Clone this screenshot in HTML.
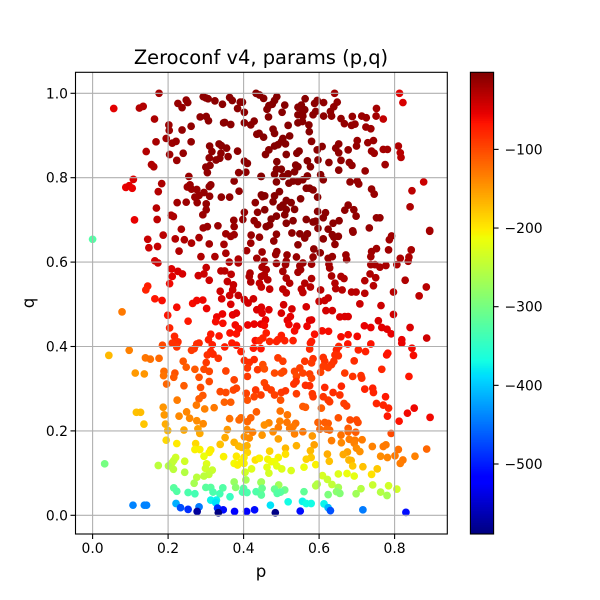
<!DOCTYPE html>
<html>
<head>
<meta charset="utf-8">
<title>Zeroconf v4, params (p,q)</title>
<style>
html,body{margin:0;padding:0;background:#fff;width:600px;height:600px;overflow:hidden}
svg{display:block}
text{font-family:"DejaVu Sans","Liberation Sans",sans-serif;fill:#000}
</style>
</head>
<body>
<svg id="chart" width="600" height="600" viewBox="0 0 600 600" xmlns="http://www.w3.org/2000/svg">
<rect x="0" y="0" width="600" height="600" fill="#fff"/>
<text x="261" y="64" font-size="19.44" text-anchor="middle">Zeroconf v4, params (p,q)</text>
<text x="261" y="577" font-size="16.67" text-anchor="middle">p</text>
<text x="0" y="0" font-size="16.67" text-anchor="middle" transform="translate(34,303) rotate(-90)">q</text>
<g id="marks"></g>
<g id="grid"></g>
<g id="axes"></g>
<rect x="75.5" y="72.3" width="371.8" height="461.7" fill="none" stroke="#000" stroke-width="1.1"/>
<g id="colorbar"></g>
</svg>
<script>
const xTicks=[0,0.2,0.4,0.6,0.8];
const yTicks=[0,0.2,0.4,0.6,0.8,1.0];
const colorTicks=[-100,-200,-300,-400,-500];
const zMin=-589;
const zMax=-2;

const pUpperLeft=[.176,.056,.124,.134,.164,.226,.248,.252,.237,.293,
.300,.306,.324,.344,.363,.370,.397,.391,.384,.402,
.433,.285,.301,.307,.202,.203,.237,.261,.347,.350,
.366,.402,.428,.419,.435,.441,.168,.195,.211,.221,
.261,.310,.335,.341,.355,.316,.384,.142,.204,.240,
.223,.309,.340,.337,.327,.359,.402,.410,.156,.162,
.311,.300,.304,.387,.406,.255,.446,.108,.088,.097,
.105,.183,.174,.251,.258,.262,.276,.313,.309,.295,
.282,.271,.310,.341,.363,.388,.375,.277,.301,.224,
.248,.169,.301,.292,.431,.402,.437,.208,.214,.111,
.171,.374,.398,.428,.437,.235,.293,.304,.332,.375,
.450];
const qUpperLeft=[1.0,.964,.965,.969,.939,.976,.984,.978,.966,.992,
.989,.987,.982,.974,.990,.983,.979,.979,.964,.955,
1.0,.944,.945,.935,.925,.912,.913,.922,.930,.931,
.926,.930,.934,.925,.903,.905,.885,.893,.882,.886,
.885,.875,.880,.876,.870,.862,.863,.862,.855,.858,
.841,.847,.858,.846,.842,.850,.839,.834,.831,.826,
.829,.825,.812,.812,.813,.803,.803,.796,.777,.781,
.775,.786,.767,.778,.783,.773,.772,.783,.779,.765,
.758,.754,.756,.754,.754,.768,.792,.741,.738,.741,
.742,.728,.724,.712,.741,.718,.718,.711,.708,.700,
.701,.699,.701,.698,.689,.678,.681,.684,.686,.684,
.755];
const zUpperLeft=[-20,-52,-28,-27,-24,-14,-12,-12,-13,-9,
-9,-9,-8,-8,-7,-7,-7,-7,-8,-8,
-6,-10,-9,-9,-16,-16,-12,-11,-8,-8,
-8,-8,-7,-7,-7,-7,-22,-18,-16,-15,
-12,-9,-8,-8,-8,-9,-8,-28,-18,-13,
-16,-10,-9,-9,-9,-9,-8,-8,-26,-26,
-10,-10,-11,-9,-9,-15,-8,-48,-55,-52,
-55,-24,-28,-17,-16,-16,-15,-12,-12,-13,
-14,-15,-13,-11,-11,-10,-10,-15,-13,-19,
-17,-30,-14,-15,-10,-12,-10,-25,-25,-55,
-33,-13,-12,-11,-12,-24,-17,-16,-15,-14,
-9];

const pUpperRight=[.442,.453,.488,.482,.476,.467,.462,.509,.502,.466,
.563,.553,.544,.562,.556,.544,.557,.588,.595,.591,
.584,.612,.648,.639,.630,.612,.633,.641,.813,.822,
.752,.751,.770,.688,.713,.725,.658,.667,.686,.695,
.724,.737,.518,.573,.544,.556,.574,.478,.482,.453,
.522,.504,.500,.491,.482,.511,.580,.608,.595,.652,
.644,.652,.677,.701,.699,.729,.744,.739,.746,.770,
.781,.810,.815,.817,.467,.458,.513,.547,.541,.488,
.569,.597,.626,.658,.680,.687,.775,.538,.544,.577,
.652,.722,.487,.500,.482,.518,.504,.535,.447,.604,
.611,.569,.557,.544,.531,.520,.487,.682,.701,.705,
.877,.846,.739,.746,.841,.575,.566,.584,.596,.495,
.482,.456,.447,.478,.551,.513,.526,.504,.497,.535,
.513,.456,.509,.487,.473,.677,.668,.692,.698,.596,
.617,.611,.752,.761,.566,.584,.591,.531,.513,.469,
.460,.653,.637,.597,.624,.689,.733,.893];
const qUpperRight=[.996,.988,.992,.983,.974,.971,.962,.972,.955,.944,
.987,.972,.967,.961,.954,.949,.946,.976,.983,.957,
.949,.978,.979,.968,.957,.946,.946,1.0,1.0,.978,
.964,.946,.939,.945,.946,.942,.940,.928,.924,.927,
.920,.916,.924,.925,.930,.933,.909,.915,.905,.896,
.899,.893,.885,.878,.875,.880,.886,.874,.866,.880,
.870,.859,.866,.888,.875,.883,.888,.863,.858,.867,
.867,.875,.859,.848,.866,.855,.855,.863,.858,.838,
.840,.842,.836,.841,.836,.829,.831,.830,.826,.826,
.818,.816,.820,.820,.808,.809,.803,.814,.803,.807,
.795,.804,.795,.791,.792,.787,.790,.790,.792,.785,
.790,.769,.773,.761,.731,.775,.775,.771,.754,.767,
.757,.757,.759,.743,.750,.746,.741,.735,.730,.725,
.724,.724,.712,.709,.702,.735,.723,.724,.709,.720,
.717,.705,.705,.705,.701,.695,.697,.698,.692,.688,
.684,.698,.692,.680,.678,.674,.681,.675];
const zUpperRight=[-6,-6,-5,-5,-5,-6,-6,-5,-6,-6,
-6,-6,-6,-6,-6,-6,-6,-8,-8,-8,
-8,-10,-12,-11,-10,-9,-10,-18,-50,-47,
-20,-20,-35,-14,-16,-16,-11,-12,-12,-13,
-16,-17,-6,-6,-6,-6,-6,-6,-6,-6,
-5,-5,-5,-5,-5,-5,-7,-8,-8,-10,
-9,-10,-11,-14,-13,-15,-16,-16,-17,-20,
-20,-26,-30,-30,-6,-6,-5,-6,-6,-5,
-6,-7,-9,-10,-11,-12,-18,-6,-6,-6,
-9,-14,-5,-5,-5,-5,-5,-5,-5,-7,
-8,-6,-6,-6,-5,-5,-6,-12,-13,-13,
-40,-32,-14,-14,-25,-6,-6,-7,-7,-6,
-6,-6,-6,-6,-6,-6,-6,-6,-6,-6,
-6,-6,-6,-6,-6,-11,-10,-11,-12,-7,
-8,-8,-12,-12,-7,-7,-7,-7,-7,-7,
-8,-9,-9,-8,-9,-11,-13,-22];

const pMiddleLeft=[0,.146,.149,.172,.187,.219,.243,.262,.282,.309,
.229,.287,.324,.348,.353,.353,.375,.366,.420,.419,
.408,.435,.386,.362,.386,.165,.173,.209,.211,.226,
.238,.204,.301,.280,.295,.309,.340,.350,.367,.417,
.415,.419,.357,.373,.371,.338,.363,.342,.386,.366,
.146,.141,.165,.184,.265,.276,.292,.223,.302,.078,
.199,.253,.402,.412,.426,.435,.446,.344,.329,.326,
.345,.371,.381,.378,.387,.364,.381,.411,.428,.446,
.204,.217,.226,.223,.211,.185,.313,.307,.335,.431,
.282,.276,.269,.262,.317,.350,.369,.381,.393,.426,
.446,.313,.304,.319,.333,.043,.097,.140,.153,.176,
.240,.248,.271,.301,.295,.309,.353,.113,.137,.189,
.188,.218,.215,.282,.375,.410,.402,.415,.428,.410,
.437];
const qMiddleLeft=[.654,.654,.634,.637,.664,.655,.653,.645,.658,.643,
.626,.613,.613,.642,.621,.667,.665,.661,.664,.645,
.627,.609,.607,.600,.598,.603,.598,.584,.566,.578,
.572,.549,.587,.568,.572,.557,.579,.579,.571,.574,
.566,.553,.554,.546,.534,.531,.521,.513,.521,.500,
.543,.534,.513,.509,.502,.509,.510,.493,.490,.482,
.474,.460,.511,.503,.513,.487,.489,.477,.470,.459,
.455,.475,.479,.451,.442,.432,.430,.451,.453,.453,
.444,.424,.411,.399,.408,.403,.429,.416,.425,.414,
.408,.406,.395,.391,.404,.399,.408,.403,.388,.396,
.395,.388,.380,.382,.372,.379,.391,.373,.370,.372,
.365,.351,.346,.362,.346,.341,.342,.337,.335,.341,
.331,.337,.327,.327,.321,.329,.367,.362,.369,.349,
.345];
const zMiddleLeft=[-325,-38,-40,-37,-31,-28,-26,-25,-22,-20,
-27,-26,-24,-21,-23,-18,-17,-18,-15,-17,
-20,-19,-26,-28,-27,-45,-43,-50,-52,-47,
-46,-60,-37,-42,-40,-42,-33,-32,-33,-24,
-25,-26,-36,-38,-40,-42,-43,-47,-36,-48,
-72,-76,-68,-63,-62,-60,-58,-62,-57,-130,
-67,-70,-42,-44,-42,-48,-46,-56,-58,-62,
-63,-54,-52,-60,-62,-65,-66,-56,-56,-54,
-76,-78,-82,-88,-85,-100,-70,-72,-68,-64,
-80,-82,-88,-90,-74,-72,-70,-70,-74,-70,
-68,-80,-84,-80,-85,-170,-135,-128,-125,-120,
-108,-112,-110,-90,-100,-98,-95,-150,-148,-122,
-126,-105,-110,-105,-96,-90,-82,-82,-80,-88,
-88];

const pMiddleRight=[.442,.487,.528,.549,.569,.562,.480,.544,.586,.603,
.611,.639,.651,.635,.690,.642,.449,.488,.485,.515,
.540,.584,.624,.635,.671,.673,.739,.752,.737,.784,
.792,.786,.844,.815,.838,.836,.893,.455,.487,.513,
.511,.557,.549,.580,.626,.628,.737,.748,.761,.777,
.806,.449,.504,.544,.551,.460,.455,.447,.464,.513,
.522,.633,.658,.666,.735,.750,.721,.828,.580,.562,
.577,.642,.644,.661,.604,.744,.686,.698,.721,.797,
.884,.865,.504,.513,.553,.557,.469,.447,.442,.624,
.615,.600,.708,.764,.506,.528,.500,.566,.618,.635,
.467,.447,.449,.655,.668,.677,.797,.757,.580,.575,
.524,.516,.458,.568,.520,.541,.535,.455,.720,.737,
.766,.780,.791,.841,.608,.625,.588,.658,.677,.701,
.885,.819,.819,.737,.676,.580,.577,.531,.500,.491,
.460,.451,.469,.509,.487,.442,.652,.646,.575,.846,
.850,.704,.723,.782,.779,.693,.766,.838,.491,.504,
.584,.562,.580,.611,.615,.642,.651,.639,.633,.624,
.611,.604,.668,.689,.711,.451,.455,.482,.506,.535,
.549,.557,.575,.540,.580,.713,.500];
const qMiddleRight=[.659,.666,.669,.667,.667,.657,.650,.641,.631,.622,
.655,.659,.661,.665,.671,.642,.624,.625,.618,.617,
.612,.612,.609,.613,.617,.606,.625,.632,.613,.629,
.662,.653,.629,.609,.612,.602,.673,.602,.597,.602,
.594,.598,.591,.595,.595,.586,.594,.594,.588,.592,
.594,.588,.578,.576,.582,.582,.570,.566,.558,.562,
.550,.567,.566,.561,.572,.563,.556,.557,.561,.550,
.541,.550,.537,.534,.534,.544,.529,.529,.526,.529,
.541,.520,.536,.527,.536,.528,.536,.541,.550,.515,
.509,.507,.501,.497,.499,.489,.479,.494,.485,.485,
.487,.493,.479,.470,.471,.471,.476,.461,.463,.462,
.471,.462,.463,.448,.452,.448,.437,.450,.449,.445,
.445,.441,.430,.445,.437,.436,.429,.423,.428,.424,
.420,.416,.408,.406,.406,.412,.408,.414,.426,.416,
.432,.420,.412,.414,.412,.414,.400,.392,.394,.396,
.379,.392,.388,.384,.380,.366,.346,.329,.373,.365,
.371,.365,.361,.374,.365,.380,.378,.365,.357,.350,
.353,.339,.337,.329,.331,.357,.347,.337,.341,.341,
.349,.337,.335,.329,.325,.325,.337];
const zMiddleRight=[-13,-10,-9,-8,-8,-9,-12,-9,-9,-9,
-9,-9,-10,-9,-12,-11,-17,-14,-15,-14,
-14,-13,-14,-14,-16,-17,-18,-18,-19,-18,
-18,-19,-22,-24,-23,-24,-20,-20,-18,-17,
-18,-17,-18,-18,-19,-20,-22,-22,-23,-23,
-25,-23,-21,-20,-20,-24,-26,-27,-28,-26,
-27,-24,-25,-26,-26,-27,-28,-26,-26,-28,
-29,-28,-29,-30,-30,-29,-30,-31,-31,-30,
-30,-33,-33,-34,-33,-33,-37,-38,-36,-38,
-39,-39,-40,-40,-44,-46,-47,-45,-44,-44,
-50,-50,-52,-49,-48,-48,-42,-46,-50,-50,
-53,-54,-56,-57,-58,-58,-62,-60,-55,-55,
-52,-52,-55,-48,-62,-62,-65,-62,-62,-60,
-42,-55,-56,-66,-68,-72,-72,-75,-72,-74,
-72,-76,-78,-75,-76,-78,-78,-76,-80,-60,
-62,-76,-74,-66,-66,-82,-78,-68,-90,-92,
-85,-88,-90,-84,-86,-82,-82,-86,-88,-90,
-90,-95,-90,-86,-85,-102,-104,-100,-98,-97,
-94,-96,-94,-100,-98,-84,-100];

const pLowerLeft=[.196,.242,.286,.309,.338,.353,.373,.381,.407,.410,
.432,.428,.446,.292,.282,.224,.275,.349,.366,.187,
.297,.322,.116,.127,.190,.229,.249,.257,.276,.293,
.363,.393,.388,.410,.419,.434,.136,.193,.199,.242,
.279,.284,.195,.357,.351,.409,.424,.402,.415,.223,
.273,.338,.375,.387,.395,.409,.271,.284,.313,.309,
.295,.347,.381,.410,.431,.441,.401,.393,.375,.384,
.401,.220,.215,.244,.211,.201,.174,.032,.214,.244,
.302,.299,.317,.308,.295,.276,.269,.404,.421,.406,
.375,.379,.446,.215,.223,.253,.271,.300,.313,.319,
.337,.345,.364,.400,.397,.409,.433,.446,.313,.328,
.326,.221,.107,.137,.143,.233,.253,.282,.331,.346,
.277,.333,.376,.408,.429];
const qLowerLeft=[.311,.307,.303,.317,.293,.291,.297,.301,.289,.273,
.297,.281,.285,.284,.276,.273,.261,.268,.268,.256,
.252,.255,.244,.244,.238,.235,.245,.230,.224,.217,
.229,.231,.226,.222,.231,.245,.216,.216,.201,.202,
.205,.194,.178,.203,.184,.203,.197,.186,.183,.170,
.170,.168,.173,.164,.161,.165,.156,.156,.155,.149,
.140,.139,.140,.149,.131,.135,.137,.126,.123,.119,
.123,.137,.130,.128,.125,.117,.118,.122,.109,.102,
.122,.111,.107,.097,.093,.090,.076,.102,.110,.084,
.079,.066,.078,.065,.057,.054,.051,.066,.066,.055,
.051,.065,.044,.064,.055,.054,.056,.050,.036,.036,
.030,.028,.024,.024,.024,.018,.014,.020,.017,.013,
.009,.006,.009,.009,.013];
const zLowerLeft=[-118,-112,-102,-100,-100,-100,-98,-96,-95,-105,
-88,-96,-92,-108,-112,-132,-130,-115,-112,-148,
-135,-130,-175,-172,-150,-140,-138,-140,-142,-140,
-125,-120,-120,-118,-115,-112,-178,-162,-170,-160,
-155,-160,-190,-150,-160,-140,-132,-145,-142,-200,
-190,-175,-165,-170,-172,-165,-205,-205,-200,-205,
-215,-205,-200,-185,-195,-190,-200,-205,-210,-205,
-205,-235,-240,-235,-245,-255,-250,-300,-250,-255,
-225,-235,-240,-245,-250,-250,-265,-235,-225,-265,
-275,-285,-280,-320,-325,-330,-335,-320,-320,-330,
-335,-325,-345,-322,-330,-330,-328,-330,-375,-375,
-385,-415,-440,-440,-440,-470,-490,-445,-490,-510,
-575,-589,-520,-525,-510];

const pLowerRight=[.455,.461,.473,.482,.500,.511,.498,.533,.539,.564,
.575,.540,.582,.584,.615,.611,.637,.624,.628,.659,
.655,.666,.673,.721,.742,.744,.776,.752,.770,.784,
.781,.834,.852,.812,.894,.557,.564,.606,.497,.516,
.651,.496,.467,.455,.538,.531,.515,.522,.492,.478,
.557,.535,.449,.492,.582,.597,.615,.624,.602,.620,
.628,.682,.699,.703,.677,.677,.697,.658,.791,.633,
.659,.680,.695,.693,.714,.699,.708,.741,.770,.777,
.810,.885,.854,.822,.815,.801,.781,.763,.675,.664,
.679,.685,.689,.716,.622,.627,.754,.739,.511,.540,
.587,.577,.579,.566,.469,.511,.492,.464,.442,.474,
.482,.462,.488,.501,.467,.526,.560,.591,.609,.622,
.634,.651,.674,.693,.595,.591,.742,.784,.806,.711,
.763,.780,.698,.651,.646,.655,.624,.560,.493,.482,
.509,.498,.489,.447,.449,.447,.518,.471,.556,.566,
.579,.613,.624,.484,.550,.630,.716,.830];
const qLowerRight=[.314,.303,.297,.285,.291,.295,.273,.311,.317,.308,
.307,.288,.288,.281,.303,.281,.291,.273,.269,.306,
.285,.265,.259,.299,.301,.291,.281,.265,.261,.254,
.235,.242,.254,.223,.232,.258,.256,.254,.247,.238,
.231,.223,.219,.214,.218,.210,.220,.206,.208,.198,
.198,.193,.190,.181,.188,.220,.220,.218,.204,.204,
.202,.226,.226,.220,.206,.198,.197,.190,.194,.177,
.172,.180,.178,.171,.179,.159,.151,.163,.163,.167,
.156,.157,.140,.131,.123,.141,.137,.140,.150,.144,
.131,.130,.117,.115,.145,.128,.110,.097,.159,.165,
.167,.153,.137,.133,.152,.145,.137,.133,.135,.127,
.127,.114,.117,.110,.100,.106,.114,.120,.094,.085,
.073,.098,.099,.093,.074,.070,.072,.070,.062,.063,
.055,.047,.051,.066,.056,.052,.049,.056,.072,.062,
.060,.055,.052,.079,.064,.048,.032,.024,.033,.028,
.028,.027,.018,.006,.010,.011,.013,.007];
const zLowerRight=[-96,-92,-92,-95,-90,-88,-105,-85,-85,-82,
-82,-92,-88,-88,-80,-88,-82,-90,-90,-78,
-85,-92,-92,-76,-74,-76,-70,-78,-78,-78,
-70,-60,-58,-66,-60,-110,-110,-112,-125,-128,
-105,-135,-140,-145,-125,-130,-128,-130,-132,-142,
-128,-135,-148,-155,-150,-115,-112,-112,-120,-118,
-118,-100,-100,-100,-112,-118,-112,-125,-100,-132,
-140,-132,-130,-135,-132,-142,-145,-135,-130,-130,
-125,-118,-135,-130,-132,-130,-138,-142,-155,-160,
-170,-168,-180,-175,-162,-175,-180,-195,-170,-165,
-155,-170,-180,-185,-185,-195,-205,-208,-205,-210,
-212,-220,-218,-225,-232,-228,-215,-205,-230,-240,
-245,-225,-215,-220,-255,-255,-240,-235,-235,-255,
-255,-265,-270,-265,-285,-290,-295,-315,-270,-310,
-305,-320,-325,-270,-310,-320,-370,-385,-375,-370,
-370,-375,-410,-585,-510,-470,-445,-510];

const pValues=[].concat(pUpperLeft,pUpperRight,pMiddleLeft,pMiddleRight,pLowerLeft,pLowerRight);
const qValues=[].concat(qUpperLeft,qUpperRight,qMiddleLeft,qMiddleRight,qLowerLeft,qLowerRight);
const zValues=[].concat(zUpperLeft,zUpperRight,zMiddleLeft,zMiddleRight,zLowerLeft,zLowerRight);

const NS='http://www.w3.org/2000/svg';
function xScale(p){return 92.6+377.5*p;}
function yScale(q){return 515.3-422*q;}
function cbScale(z){return 72.3+(zMax-z)/(zMax-zMin)*461.7;}
function ramp(t,pts){
  for(let i=1;i<pts.length;i++){
    if(t<=pts[i][0]){
      const a=pts[i-1],b=pts[i];
      return a[1]+(b[1]-a[1])*(t-a[0])/(b[0]-a[0]);
    }
  }
  return pts[pts.length-1][1];
}
function jet(t){
  t=Math.max(0,Math.min(1,t));
  const r=ramp(t,[[0,0],[.35,0],[.66,1],[.89,1],[1,.5]]);
  const g=ramp(t,[[0,0],[.125,0],[.375,1],[.64,1],[.91,0],[1,0]]);
  const b=ramp(t,[[0,.5],[.11,1],[.34,1],[.65,0],[1,0]]);
  return 'rgb('+Math.round(r*255)+','+Math.round(g*255)+','+Math.round(b*255)+')';
}
function colorOf(z){return jet((z-zMin)/(zMax-zMin));}
function make(tag,attrs,parent){
  const el=document.createElementNS(NS,tag);
  for(const k in attrs){el.setAttribute(k,attrs[k]);}
  parent.appendChild(el);
  return el;
}

const marks=document.getElementById('marks');
for(let i=0;i<pValues.length;i++){
  const dot=make('circle',{cx:xScale(pValues[i]),cy:yScale(qValues[i]),r:3.85,fill:colorOf(zValues[i])},marks);
  
  
}

const grid=document.getElementById('grid');
const axes=document.getElementById('axes');
xTicks.forEach(function(v){
  const x=xScale(v);
  const gl=make('line',{x1:x,x2:x,y1:72.3,y2:534,stroke:'#b0b0b0','stroke-width':1.1},grid);
  
  
  const tk=make('line',{x1:x,x2:x,y1:534,y2:539,stroke:'#000','stroke-width':1.1},axes);
  
  
  const lb=make('text',{x:x,y:553,'font-size':13.89,'text-anchor':'middle'},axes);
  lb.textContent=v.toFixed(1);
  
  
});
yTicks.forEach(function(v){
  const y=yScale(v);
  const gl=make('line',{x1:75.5,x2:447.3,y1:y,y2:y,stroke:'#b0b0b0','stroke-width':1.1},grid);
  
  
  const tk=make('line',{x1:70.5,x2:75.5,y1:y,y2:y,stroke:'#000','stroke-width':1.1},axes);
  
  
  const lb=make('text',{x:68,y:y+5,'font-size':13.89,'text-anchor':'end'},axes);
  lb.textContent=v.toFixed(1);
  
  
});

const cb=document.getElementById('colorbar');
const levels=256;
for(let i=0;i<levels;i++){
  const zTop=zMax-(zMax-zMin)*i/levels;
  const zBottom=zMax-(zMax-zMin)*(i+1)/levels;
  const y0=cbScale(zTop),y1=cbScale(zBottom);
  const band=make('rect',{x:470.4,y:y0,width:23.2,height:y1-y0+0.4,fill:colorOf((zTop+zBottom)/2)},cb);
  
  
}
const cbFrame=make('rect',{x:470.4,y:72.3,width:23.2,height:461.7,fill:'none',stroke:'#000','stroke-width':1.1},cb);


colorTicks.forEach(function(v){
  const y=cbScale(v);
  const tk=make('line',{x1:493.6,x2:498.6,y1:y,y2:y,stroke:'#000','stroke-width':1.1},cb);
  
  
  const lb=make('text',{x:504.5,y:y+5,'font-size':13.89},cb);
  lb.textContent='\u2212'+Math.abs(v);
  
  
});
</script>
</body>
</html>
